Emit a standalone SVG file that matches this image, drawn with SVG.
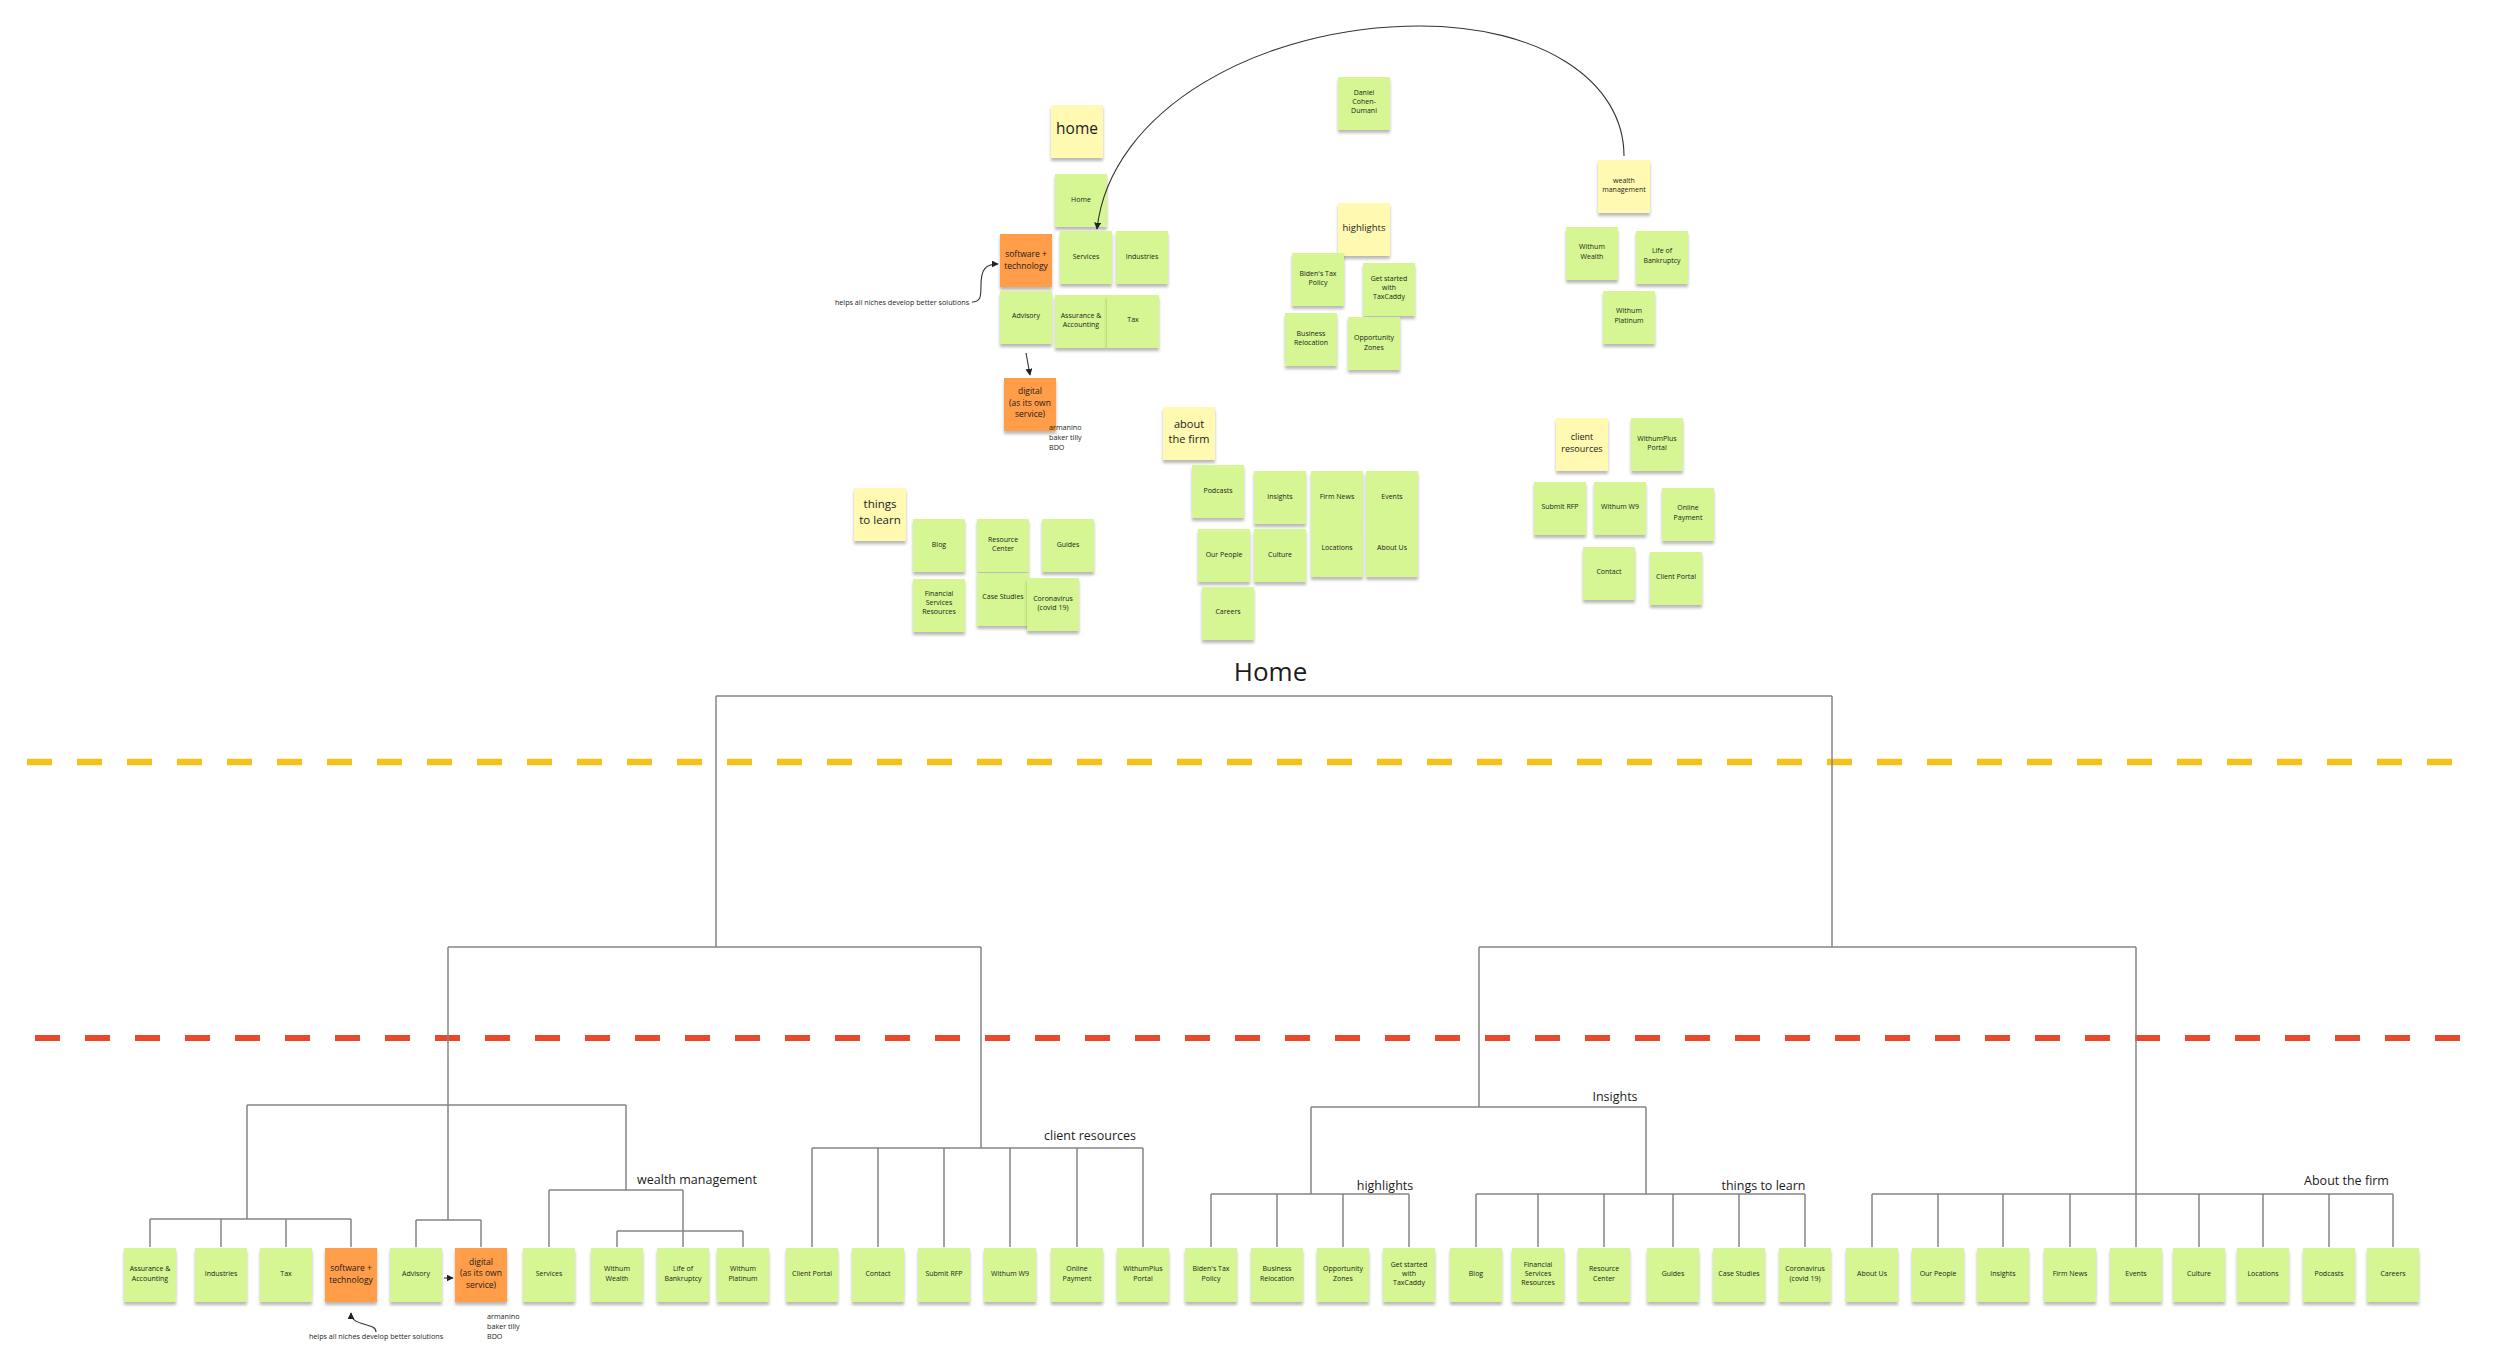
<svg xmlns="http://www.w3.org/2000/svg" width="2500" height="1367" viewBox="0 0 2500 1367">
<style>
.g{fill:#d5f692}
.y{fill:#fff9b1}
.o{fill:#ff9d48}
rect{filter:url(#sh)}
text{font-family:"Open Sans","Liberation Sans",sans-serif;fill:#1c1c1c}
.t{font-size:7px;text-anchor:middle}
.tb{font-size:8.5px;text-anchor:middle}
.lb{font-size:12.5px;text-anchor:middle}
.sm{font-size:7.2px}
.c{stroke:#858585;stroke-width:1.5;fill:none}
.a{stroke:#333;stroke-width:1.1;fill:none}
</style>
<defs>
<filter id="sh" x="-20%" y="-20%" width="140%" height="150%">
<feDropShadow dx="0" dy="3" stdDeviation="1.6" flood-color="#000" flood-opacity="0.28"/>
</filter>
<marker id="ah" viewBox="0 0 10 10" refX="9" refY="5" markerWidth="7" markerHeight="7" orient="auto" markerUnits="userSpaceOnUse">
<path d="M0,0 L10,5 L0,10 z" fill="#222"/>
</marker>
</defs>
<rect width="2500" height="1367" fill="#fff" style="filter:none"/>

<g id="separators">
<line x1="27" y1="762" x2="2452" y2="762" stroke="#f5c21b" stroke-width="6.5" stroke-dasharray="25 25"/>
<line x1="35" y1="1038" x2="2460" y2="1038" stroke="#e8492a" stroke-width="6" stroke-dasharray="25 25"/>
</g>

<g id="labels">
<text x="1270.5" y="681" style="font-size:26px;text-anchor:middle">Home</text>
<text class="lb" x="697" y="1183.5">wealth management</text>
<text class="lb" x="1090" y="1140">client resources</text>
<text class="lb" x="1385" y="1190">highlights</text>
<text class="lb" x="1615" y="1101">Insights</text>
<text class="lb" x="1763.5" y="1190">things to learn</text>
<text class="lb" x="2346.5" y="1185">About the firm</text>
</g>

<!-- top cluster -->
<g id="n-home-head"><rect class="y" x="1051" y="105" width="52" height="53"/><text x="1077" y="134" style="font-size:15.5px;text-anchor:middle">home</text></g>
<g id="n-home"><rect class="g" x="1055" y="174" width="52" height="53"/><text class="t" x="1081" y="202">Home</text></g>
<g id="n-services"><rect class="g" x="1060" y="231" width="52" height="53"/><text class="t" x="1086" y="259">Services</text></g>
<g id="n-industries"><rect class="g" x="1116" y="231" width="52" height="53"/><text class="t" x="1142" y="259">Industries</text></g>
<g id="n-software"><rect class="o" x="1000" y="234" width="52" height="53"/><text class="tb" x="1026" y="257">software +<tspan x="1026" dy="11.5">technology</tspan></text></g>
<g id="n-advisory"><rect class="g" x="1000" y="291" width="52" height="53"/><text class="t" x="1026" y="318">Advisory</text></g>
<g id="n-assurance"><rect class="g" x="1055" y="295" width="52" height="53"/><text class="t" x="1081" y="317.5">Assurance &amp;<tspan x="1081" dy="9.3">Accounting</tspan></text></g>
<g id="n-tax"><rect class="g" x="1107" y="295" width="52" height="53"/><text class="t" x="1133" y="322">Tax</text></g>
<g id="n-digital"><rect class="o" x="1004" y="378" width="52" height="53"/><text class="tb" x="1030" y="394">digital<tspan x="1030" dy="11.5">(as its own</tspan><tspan x="1030" dy="11.5">service)</tspan></text></g>
<g id="t-helps-top"><text class="sm" x="902" y="304.5" text-anchor="middle">helps all niches develop better solutions</text></g>
<g id="t-armanino-top"><text class="sm" x="1049" y="429.5">armanino<tspan x="1049" dy="10.3">baker tilly</tspan><tspan x="1049" dy="10.3">BDO</tspan></text></g>

<g id="n-daniel"><rect class="g" x="1338" y="77" width="52" height="53"/><text class="t" x="1364" y="94.5">Daniel<tspan x="1364" dy="9.3">Cohen-</tspan><tspan x="1364" dy="9.3">Dumani</tspan></text></g>
<g id="n-highlights-head"><rect class="y" x="1338" y="203" width="52" height="53"/><text x="1364" y="231" style="font-size:9.5px;text-anchor:middle">highlights</text></g>
<g id="n-biden"><rect class="g" x="1292" y="253" width="52" height="53"/><text class="t" x="1318" y="275.8">Biden's Tax<tspan x="1318" dy="9.3">Policy</tspan></text></g>
<g id="n-taxcaddy"><rect class="g" x="1363" y="263" width="52" height="53"/><text class="t" x="1389" y="280.8">Get started<tspan x="1389" dy="9.3">with</tspan><tspan x="1389" dy="9.3">TaxCaddy</tspan></text></g>
<g id="n-relocation"><rect class="g" x="1285" y="313" width="52" height="53"/><text class="t" x="1311" y="335.8">Business<tspan x="1311" dy="9.3">Relocation</tspan></text></g>
<g id="n-opportunity"><rect class="g" x="1348" y="317" width="52" height="53"/><text class="t" x="1374" y="340.2">Opportunity<tspan x="1374" dy="9.3">Zones</tspan></text></g>

<g id="n-wealth-head"><rect class="y" x="1598" y="160" width="52" height="53"/><text class="t" x="1624" y="182.8">wealth<tspan x="1624" dy="9.3">management</tspan></text></g>
<g id="n-withum-wealth"><rect class="g" x="1566" y="227" width="52" height="53"/><text class="t" x="1592" y="249.2">Withum<tspan x="1592" dy="9.3">Wealth</tspan></text></g>
<g id="n-bankruptcy"><rect class="g" x="1636" y="231" width="52" height="53"/><text class="t" x="1662" y="253.2">Life of<tspan x="1662" dy="9.3">Bankruptcy</tspan></text></g>
<g id="n-platinum"><rect class="g" x="1603" y="291" width="52" height="53"/><text class="t" x="1629" y="313.2">Withum<tspan x="1629" dy="9.3">Platinum</tspan></text></g>

<g id="n-about-head"><rect class="y" x="1163" y="407" width="52" height="53"/><text x="1189" y="428" style="font-size:11px;text-anchor:middle">about<tspan x="1189" dy="15">the firm</tspan></text></g>
<g id="n-podcasts"><rect class="g" x="1192" y="465" width="52" height="53"/><text class="t" x="1218" y="492.5">Podcasts</text></g>
<g id="n-insights"><rect class="g" x="1254" y="471" width="52" height="53"/><text class="t" x="1280" y="498.5">Insights</text></g>
<g id="n-firmnews"><rect class="g" x="1311" y="471" width="52" height="53"/><text class="t" x="1337" y="498.5">Firm News</text></g>
<g id="n-events"><rect class="g" x="1366" y="471" width="52" height="53"/><text class="t" x="1392" y="498.5">Events</text></g>
<g id="n-ourpeople"><rect class="g" x="1198" y="529" width="52" height="53"/><text class="t" x="1224" y="556.5">Our People</text></g>
<g id="n-culture"><rect class="g" x="1254" y="529" width="52" height="53"/><text class="t" x="1280" y="556.5">Culture</text></g>
<g id="n-locations"><rect class="g" x="1311" y="524" width="52" height="53"/><text class="t" x="1337" y="549.8">Locations</text></g>
<g id="n-aboutus"><rect class="g" x="1366" y="524" width="52" height="53"/><text class="t" x="1392" y="549.8">About Us</text></g>
<g id="n-careers"><rect class="g" x="1202" y="587" width="52" height="53"/><text class="t" x="1228" y="613.8">Careers</text></g>

<g id="n-learn-head"><rect class="y" x="854" y="488" width="52" height="53"/><text x="880" y="508" style="font-size:11.5px;text-anchor:middle">things<tspan x="880" dy="16">to learn</tspan></text></g>
<g id="n-blog"><rect class="g" x="913" y="519" width="52" height="53"/><text class="t" x="939" y="546.5">Blog</text></g>
<g id="n-resource"><rect class="g" x="977" y="519" width="52" height="53"/><text class="t" x="1003" y="541.8">Resource<tspan x="1003" dy="9.3">Center</tspan></text></g>
<g id="n-guides"><rect class="g" x="1042" y="519" width="52" height="53"/><text class="t" x="1068" y="546.5">Guides</text></g>
<g id="n-financial"><rect class="g" x="913" y="579" width="52" height="53"/><text class="t" x="939" y="595.8">Financial<tspan x="939" dy="9.3">Services</tspan><tspan x="939" dy="9.3">Resources</tspan></text></g>
<g id="n-casestudies"><rect class="g" x="977" y="573" width="52" height="53"/><text class="t" x="1003" y="599.2">Case Studies</text></g>
<g id="n-coronavirus"><rect class="g" x="1027" y="578" width="52" height="53"/><text class="t" x="1053" y="600.5">Coronavirus<tspan x="1053" dy="9.3">(covid 19)</tspan></text></g>

<g id="n-client-head"><rect class="y" x="1556" y="418" width="52" height="53"/><text x="1582" y="440" style="font-size:9px;text-anchor:middle">client<tspan x="1582" dy="12.3">resources</tspan></text></g>
<g id="n-withumplus"><rect class="g" x="1631" y="418" width="52" height="53"/><text class="t" x="1657" y="440.5">WithumPlus<tspan x="1657" dy="9.3">Portal</tspan></text></g>
<g id="n-submitrfp"><rect class="g" x="1534" y="482" width="52" height="53"/><text class="t" x="1560" y="509.2">Submit RFP</text></g>
<g id="n-w9"><rect class="g" x="1594" y="482" width="52" height="53"/><text class="t" x="1620" y="509.2">Withum W9</text></g>
<g id="n-payment"><rect class="g" x="1662" y="488" width="52" height="53"/><text class="t" x="1688" y="510.2">Online<tspan x="1688" dy="9.3">Payment</tspan></text></g>
<g id="n-contact"><rect class="g" x="1583" y="547" width="52" height="53"/><text class="t" x="1609" y="573.5">Contact</text></g>
<g id="n-clientportal"><rect class="g" x="1650" y="552" width="52" height="53"/><text class="t" x="1676" y="578.8">Client Portal</text></g>

<!-- bottom row -->
<g id="b-assurance"><rect class="g" x="124" y="1248" width="52" height="54"/><text class="t" x="150" y="1271.3">Assurance &amp;<tspan x="150" dy="9.3">Accounting</tspan></text></g>
<g id="b-industries"><rect class="g" x="195" y="1248" width="52" height="54"/><text class="t" x="221" y="1276">Industries</text></g>
<g id="b-tax"><rect class="g" x="260" y="1248" width="52" height="54"/><text class="t" x="286" y="1276">Tax</text></g>
<g id="b-software"><rect class="o" x="325" y="1248" width="52" height="54"/><text class="tb" x="351" y="1271">software +<tspan x="351" dy="11.7">technology</tspan></text></g>
<g id="b-advisory"><rect class="g" x="390" y="1248" width="52" height="54"/><text class="t" x="416" y="1276">Advisory</text></g>
<g id="b-digital"><rect class="o" x="455" y="1248" width="52" height="54"/><text class="tb" x="481" y="1264.7">digital<tspan x="481" dy="11.6">(as its own</tspan><tspan x="481" dy="11.6">service)</tspan></text></g>
<g id="b-services"><rect class="g" x="523" y="1248" width="52" height="54"/><text class="t" x="549" y="1276">Services</text></g>
<g id="b-withum-wealth"><rect class="g" x="591" y="1248" width="52" height="54"/><text class="t" x="617" y="1271.3">Withum<tspan x="617" dy="9.3">Wealth</tspan></text></g>
<g id="b-bankruptcy"><rect class="g" x="657" y="1248" width="52" height="54"/><text class="t" x="683" y="1271.3">Life of<tspan x="683" dy="9.3">Bankruptcy</tspan></text></g>
<g id="b-platinum"><rect class="g" x="717" y="1248" width="52" height="54"/><text class="t" x="743" y="1271.3">Withum<tspan x="743" dy="9.3">Platinum</tspan></text></g>
<g id="b-clientportal"><rect class="g" x="786" y="1248" width="52" height="54"/><text class="t" x="812" y="1276">Client Portal</text></g>
<g id="b-contact"><rect class="g" x="852" y="1248" width="52" height="54"/><text class="t" x="878" y="1276">Contact</text></g>
<g id="b-submitrfp"><rect class="g" x="918" y="1248" width="52" height="54"/><text class="t" x="944" y="1276">Submit RFP</text></g>
<g id="b-w9"><rect class="g" x="984" y="1248" width="52" height="54"/><text class="t" x="1010" y="1276">Withum W9</text></g>
<g id="b-payment"><rect class="g" x="1051" y="1248" width="52" height="54"/><text class="t" x="1077" y="1271.3">Online<tspan x="1077" dy="9.3">Payment</tspan></text></g>
<g id="b-withumplus"><rect class="g" x="1117" y="1248" width="52" height="54"/><text class="t" x="1143" y="1271.3">WithumPlus<tspan x="1143" dy="9.3">Portal</tspan></text></g>
<g id="b-biden"><rect class="g" x="1185" y="1248" width="52" height="54"/><text class="t" x="1211" y="1271.3">Biden's Tax<tspan x="1211" dy="9.3">Policy</tspan></text></g>
<g id="b-relocation"><rect class="g" x="1251" y="1248" width="52" height="54"/><text class="t" x="1277" y="1271.3">Business<tspan x="1277" dy="9.3">Relocation</tspan></text></g>
<g id="b-opportunity"><rect class="g" x="1317" y="1248" width="52" height="54"/><text class="t" x="1343" y="1271.3">Opportunity<tspan x="1343" dy="9.3">Zones</tspan></text></g>
<g id="b-taxcaddy"><rect class="g" x="1383" y="1248" width="52" height="54"/><text class="t" x="1409" y="1266.7">Get started<tspan x="1409" dy="9.3">with</tspan><tspan x="1409" dy="9.3">TaxCaddy</tspan></text></g>
<g id="b-blog"><rect class="g" x="1450" y="1248" width="52" height="54"/><text class="t" x="1476" y="1276">Blog</text></g>
<g id="b-financial"><rect class="g" x="1512" y="1248" width="52" height="54"/><text class="t" x="1538" y="1266.7">Financial<tspan x="1538" dy="9.3">Services</tspan><tspan x="1538" dy="9.3">Resources</tspan></text></g>
<g id="b-resource"><rect class="g" x="1578" y="1248" width="52" height="54"/><text class="t" x="1604" y="1271.3">Resource<tspan x="1604" dy="9.3">Center</tspan></text></g>
<g id="b-guides"><rect class="g" x="1647" y="1248" width="52" height="54"/><text class="t" x="1673" y="1276">Guides</text></g>
<g id="b-casestudies"><rect class="g" x="1713" y="1248" width="52" height="54"/><text class="t" x="1739" y="1276">Case Studies</text></g>
<g id="b-coronavirus"><rect class="g" x="1779" y="1248" width="52" height="54"/><text class="t" x="1805" y="1271.3">Coronavirus<tspan x="1805" dy="9.3">(covid 19)</tspan></text></g>
<g id="b-aboutus"><rect class="g" x="1846" y="1248" width="52" height="54"/><text class="t" x="1872" y="1276">About Us</text></g>
<g id="b-ourpeople"><rect class="g" x="1912" y="1248" width="52" height="54"/><text class="t" x="1938" y="1276">Our People</text></g>
<g id="b-insights"><rect class="g" x="1977" y="1248" width="52" height="54"/><text class="t" x="2003" y="1276">Insights</text></g>
<g id="b-firmnews"><rect class="g" x="2044" y="1248" width="52" height="54"/><text class="t" x="2070" y="1276">Firm News</text></g>
<g id="b-events"><rect class="g" x="2110" y="1248" width="52" height="54"/><text class="t" x="2136" y="1276">Events</text></g>
<g id="b-culture"><rect class="g" x="2173" y="1248" width="52" height="54"/><text class="t" x="2199" y="1276">Culture</text></g>
<g id="b-locations"><rect class="g" x="2237" y="1248" width="52" height="54"/><text class="t" x="2263" y="1276">Locations</text></g>
<g id="b-podcasts"><rect class="g" x="2303" y="1248" width="52" height="54"/><text class="t" x="2329" y="1276">Podcasts</text></g>
<g id="b-careers"><rect class="g" x="2367" y="1248" width="52" height="54"/><text class="t" x="2393" y="1276">Careers</text></g>
<g id="t-helps-bottom"><text class="sm" x="376" y="1338.5" text-anchor="middle">helps all niches develop better solutions</text></g>
<g id="t-armanino-bottom"><text class="sm" x="487" y="1318.5">armanino<tspan x="487" dy="10.3">baker tilly</tspan><tspan x="487" dy="10.3">BDO</tspan></text></g>

<g id="connectors">
<path class="a" d="M1624,156 C1624,80 1540,26 1420,26 C1260,26 1110,110 1097,229" marker-end="url(#ah)"/>
<path class="a" d="M972,302 C981,302 981,296 981,285 C981,270 985,264 998,264" marker-end="url(#ah)"/>
<path class="a" d="M1026,353 L1030,375" marker-end="url(#ah)"/>
<path class="a" d="M376,1332 C376,1322 351,1327 351,1313" marker-end="url(#ah)"/>
<path class="a" d="M444,1278 H453" marker-end="url(#ah)"/>
<path class="c" d="M716,696 H1832 M716,696 V947 M1832,696 V947 M448,947 H981 M448,947 V1220 M981,947 V1148 M1479,947 H2136 M1479,947 V1107 M2136,947 V1247"/>
<path class="c" d="M247,1105 H626 M247,1105 V1219 M150,1219 H351 M150,1219 V1247 M221,1219 V1247 M286,1219 V1247 M351,1219 V1247 M416,1220 H481 M416,1220 V1247 M481,1220 V1247 M626,1105 V1190 M549,1190 H683 M549,1190 V1247 M683,1190 V1247 M617,1231 H743 M617,1231 V1247 M743,1231 V1247"/>
<path class="c" d="M812,1148 H1143 M812,1148 V1247 M878,1148 V1247 M944,1148 V1247 M1010,1148 V1247 M1077,1148 V1247 M1143,1148 V1247"/>
<path class="c" d="M1311,1107 H1646 M1311,1107 V1194 M1211,1194 H1409 M1211,1194 V1247 M1277,1194 V1247 M1343,1194 V1247 M1409,1194 V1247 M1646,1107 V1194 M1476,1194 H1805 M1476,1194 V1247 M1538,1194 V1247 M1604,1194 V1247 M1673,1194 V1247 M1739,1194 V1247 M1805,1194 V1247"/>
<path class="c" d="M1872,1194 H2393 M1872,1194 V1247 M1938,1194 V1247 M2003,1194 V1247 M2070,1194 V1247 M2199,1194 V1247 M2263,1194 V1247 M2329,1194 V1247 M2393,1194 V1247"/>
</g>
</svg>
